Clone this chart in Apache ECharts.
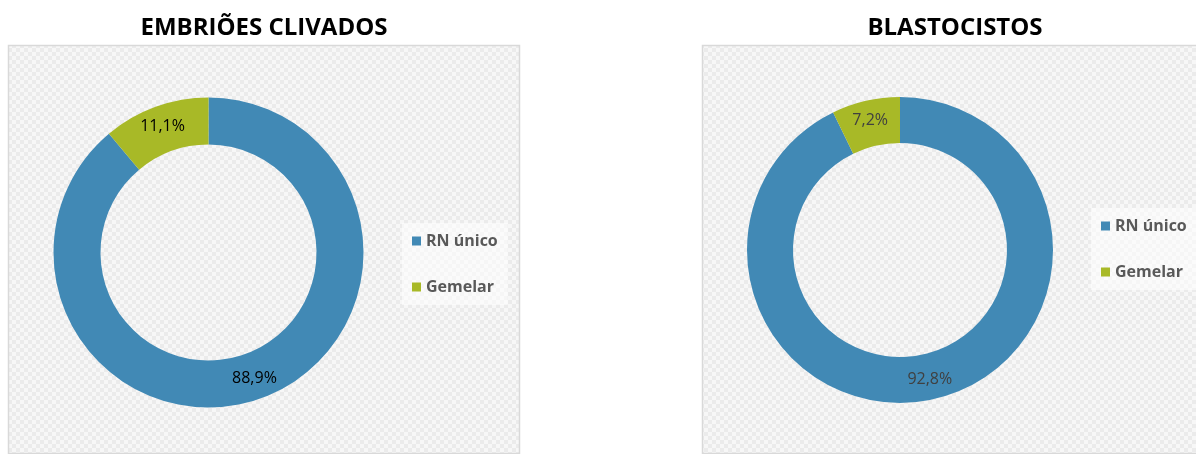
<!DOCTYPE html>
<html>
<head>
<meta charset="utf-8">
<script src="https://cdn.jsdelivr.net/npm/echarts@6/dist/echarts.min.js"></script>
<style>
  html, body { margin: 0; padding: 0; background: #fff; }
  #chart { width: 1196px; height: 454px; }
</style>
</head>
<body>
<div id="chart"></div>
<script>
// data
const categories = ['RN único', 'Gemelar'];
const chartTitles = ['EMBRIÕES CLIVADOS', 'BLASTOCISTOS'];
const clivadosValues = [88.9, 11.1];
const blastocistosValues = [92.8, 7.2];

const colors = ['#4189B5', '#A8B927'];

// checkerboard fill like the office chart area
const tile = document.createElement('canvas');
tile.width = 8;
tile.height = 8;
const tctx = tile.getContext('2d');
tctx.fillStyle = '#f7f7f7';
tctx.fillRect(0, 0, 8, 8);
tctx.fillStyle = '#ebebeb';
tctx.fillRect(0, 0, 4, 4);
tctx.fillRect(4, 4, 4, 4);
const checker = { image: tile, repeat: 'repeat' };

function pieData(values) {
  return categories.map((name, i) => ({ name: name, value: values[i] }));
}

function fmt(p) {
  return p.value.toFixed(1).replace('.', ',') + '%';
}

const myChart = echarts.init(document.getElementById('chart'), null, { renderer: 'canvas' });

let option = {
  color: colors,
  animation: false,
  textStyle: { fontFamily: 'Open Sans' },
  title: [
    {
      text: chartTitles[0],
      left: 259, top: 11, textAlign: 'center',
      textStyle: { fontFamily: 'Open Sans', fontWeight: 'bold', fontSize: 24, color: '#000' }
    },
    {
      text: chartTitles[1],
      left: 950, top: 11, textAlign: 'center',
      textStyle: { fontFamily: 'Open Sans', fontWeight: 'bold', fontSize: 24, color: '#000' }
    }
  ],
  graphic: [
    {
      type: 'rect', z: 0, silent: true,
      shape: { x: 8.5, y: 45.5, width: 511, height: 408 },
      style: { fill: checker, stroke: '#d9d9d9', lineWidth: 1.5 }
    },
    {
      type: 'rect', z: 0, silent: true,
      shape: { x: 702.5, y: 45.5, width: 520, height: 408 },
      style: { fill: checker, stroke: '#d9d9d9', lineWidth: 1.5 }
    }
  ],
  legend: [
    {
      data: categories,
      orient: 'vertical',
      left: 402, top: 223,
      padding: [10, 10, 10, 10],
      backgroundColor: 'rgba(255,255,255,0.55)',
      itemWidth: 9, itemHeight: 9,
      itemGap: 30,
      icon: 'rect',
      selectedMode: false,
      textStyle: { fontFamily: 'Open Sans', fontWeight: 'bold', fontSize: 16, color: '#595959' }
    },
    {
      data: categories,
      orient: 'vertical',
      left: 1091, top: 208,
      padding: [10, 10, 10, 10],
      backgroundColor: 'rgba(255,255,255,0.55)',
      itemWidth: 9, itemHeight: 9,
      itemGap: 30,
      icon: 'rect',
      selectedMode: false,
      textStyle: { fontFamily: 'Open Sans', fontWeight: 'bold', fontSize: 16, color: '#595959' }
    }
  ],
  series: [
    {
      type: 'pie',
      center: [208.5, 252.5],
      radius: [108, 155],
      startAngle: 90,
      clockwise: true,
      avoidLabelOverlap: false,
      label: {
        position: 'inside',
        formatter: fmt,
        fontFamily: 'Open Sans',
        fontSize: 16,
        color: '#000'
      },
      labelLine: { show: false },
      emphasis: { disabled: true },
      data: pieData(clivadosValues)
    },
    {
      type: 'pie',
      center: [900, 250],
      radius: [107, 153],
      startAngle: 90,
      clockwise: true,
      avoidLabelOverlap: false,
      label: {
        position: 'inside',
        formatter: fmt,
        fontFamily: 'Open Sans',
        fontSize: 16,
        color: '#404040'
      },
      labelLine: { show: false },
      emphasis: { disabled: true },
      data: pieData(blastocistosValues)
    }
  ]
};

option && myChart.setOption(option);
</script>
</body>
</html>
